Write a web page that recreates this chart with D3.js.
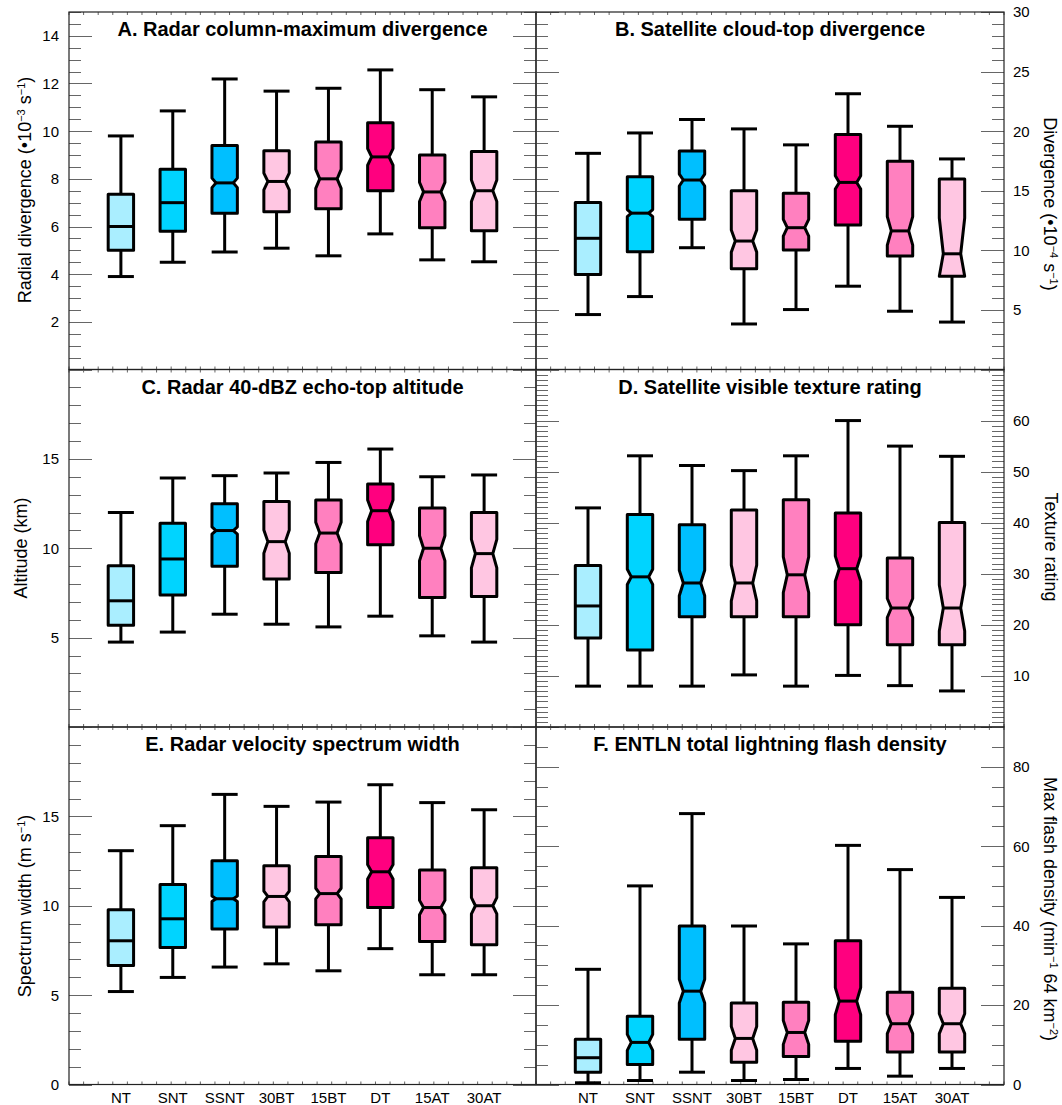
<!DOCTYPE html>
<html>
<head>
<meta charset="utf-8">
<script src="https://cdn.jsdelivr.net/npm/d3@7"></script>
<style>
  body { margin: 0; background: #fff; }
  text { font-family: "Liberation Sans", Arial, Helvetica, sans-serif; fill: #000; }
</style>
</head>
<body>
<div id="chart"></div>
<script>
// categories and box colours
var categories = ["NT", "SNT", "SSNT", "30BT", "15BT", "DT", "15AT", "30AT"];
var boxColors = ["#aaeeff", "#00d4ff", "#00bfff", "#ffc6e2", "#ff80bf", "#ff007f", "#ff80bf", "#ffc6e2"];

// each box: [whisker low, q1, median, q3, whisker high]; notch = half size of the median notch (0 = none)
var radarDivergence = [
  [3.9, 5.0, 6.0, 7.35, 9.8],
  [4.5, 5.8, 7.0, 8.4, 10.85],
  [4.93, 6.56, 7.83, 9.4, 12.19],
  [5.09, 6.62, 7.89, 9.18, 11.68],
  [4.77, 6.74, 8.0, 9.55, 11.8],
  [5.69, 7.5, 8.92, 10.35, 12.57],
  [4.6, 5.95, 7.45, 9.0, 11.74],
  [4.52, 5.82, 7.5, 9.15, 11.44]
];
var radarDivergenceNotch = [0, 0, 0.2, 0.35, 0.4, 0.35, 0.4, 0.45];

var satDivergence = [
  [4.61, 7.98, 11.01, 14.01, 18.14],
  [6.12, 9.88, 13.12, 16.18, 19.85],
  [10.22, 12.61, 15.9, 18.34, 20.98],
  [3.82, 8.45, 10.78, 15.0, 20.19],
  [5.03, 10.03, 11.9, 14.8, 18.85],
  [6.99, 12.13, 15.7, 19.71, 23.14],
  [4.89, 9.52, 11.63, 17.47, 20.41],
  [3.98, 7.83, 9.71, 15.98, 17.67]
];
var satDivergenceNotch = [0, 0.3, 0.5, 0.93, 0.7, 0.56, 1.2, 3.0];

var echoTop = [
  [4.75, 5.69, 7.06, 9.02, 12.0],
  [5.31, 7.38, 9.4, 11.4, 13.93],
  [6.31, 9.0, 10.99, 12.49, 14.06],
  [5.75, 8.28, 10.37, 12.62, 14.21],
  [5.6, 8.65, 10.85, 12.7, 14.8],
  [6.2, 10.2, 12.1, 13.6, 15.55],
  [5.1, 7.25, 10.0, 12.25, 14.0],
  [4.75, 7.3, 9.7, 12.0, 14.1]
];
var echoTopNotch = [0, 0, 0.2, 0.65, 0.6, 0.6, 0.7, 0.8];

var textureRating = [
  [8.0, 17.45, 23.7, 31.6, 42.9],
  [8.0, 15.1, 29.4, 41.6, 53.1],
  [8.0, 21.6, 28.2, 39.6, 51.2],
  [10.2, 21.6, 28.2, 42.5, 50.2],
  [8.0, 21.6, 29.8, 44.5, 53.1],
  [10.1, 20.0, 31.0, 41.9, 60.0],
  [8.1, 16.1, 23.3, 33.1, 55.0],
  [7.06, 16.1, 23.3, 40.06, 53.0]
];
var textureRatingNotch = [0, 1.5, 2.5, 3.5, 3.5, 2.45, 1.86, 4.5];

var spectrumWidth = [
  [5.2, 6.66, 8.04, 9.78, 13.08],
  [5.99, 7.67, 9.27, 11.19, 14.48],
  [6.57, 8.7, 10.39, 12.52, 16.23],
  [6.75, 8.81, 10.52, 12.24, 15.56],
  [6.36, 8.94, 10.68, 12.75, 15.8],
  [7.6, 9.9, 11.9, 13.8, 16.77],
  [6.14, 8.0, 9.9, 12.0, 15.77],
  [6.14, 7.82, 10.0, 12.13, 15.37]
];
var spectrumWidthNotch = [0, 0, 0.15, 0.3, 0.3, 0.4, 0.4, 0.45];

var flashDensity = [
  [0.43, 3.1, 6.74, 11.4, 29.0],
  [1.0, 5.05, 10.6, 17.2, 50.0],
  [3.1, 11.4, 23.5, 39.9, 68.2],
  [1.0, 5.6, 11.6, 20.5, 39.9],
  [1.26, 7.07, 13.1, 20.7, 35.4],
  [4.04, 10.9, 21.0, 36.2, 60.2],
  [2.1, 8.17, 15.3, 23.2, 54.1],
  [4.04, 8.17, 15.3, 24.2, 47.1]
];
var flashDensityNotch = [0, 2, 3, 3, 3, 3.4, 2.5, 2.5];

// tick labels per panel
var ticksA = [2, 4, 6, 8, 10, 12, 14];
var ticksB = [5, 10, 15, 20, 25, 30];
var ticksC = [5, 10, 15];
var ticksD = [10, 20, 30, 40, 50, 60];
var ticksE = [0, 5, 10, 15];
var ticksF = [0, 20, 40, 60, 80];

var panels = [
  {title: "A. Radar column-maximum divergence", data: radarDivergence, notch: radarDivergenceNotch,
   max: 15, major: 2, minor: 0.5, labels: ticksA, col: 0, row: 0,
   ytitle: [["Radial divergence (•10", 0], ["−3", 1], [" s", 0], ["−1", 1], [")", 0]], tx: 31, ty: 190},
  {title: "B. Satellite cloud-top divergence", data: satDivergence, notch: satDivergenceNotch,
   max: 30, major: 5, minor: 1, labels: ticksB, col: 1, row: 0,
   ytitle: [["Divergence (•10", 0], ["−4", 1], [" s", 0], ["−1", 1], [")", 0]], tx: 1044, ty: 204},
  {title: "C. Radar 40-dBZ echo-top altitude", data: echoTop, notch: echoTopNotch,
   max: 20, major: 5, minor: 1, labels: ticksC, col: 0, row: 1,
   ytitle: [["Altitude (km)", 0]], tx: 27, ty: 548},
  {title: "D. Satellite visible texture rating", data: textureRating, notch: textureRatingNotch,
   max: 70, major: 10, minor: 1, labels: ticksD, col: 1, row: 1,
   ytitle: [["Texture rating", 0]], tx: 1045, ty: 547},
  {title: "E. Radar velocity spectrum width", data: spectrumWidth, notch: spectrumWidthNotch,
   max: 20, major: 5, minor: 1, labels: ticksE, col: 0, row: 2,
   ytitle: [["Spectrum width (m s", 0], ["−1", 1], [")", 0]], tx: 31, ty: 906},
  {title: "F. ENTLN total lightning flash density", data: flashDensity, notch: flashDensityNotch,
   max: 90, major: 20, minor: 5, labels: ticksF, col: 1, row: 2,
   ytitle: [["Max flash density (min", 0], ["−1", 1], [" 64 km", 0], ["−2", 1], [")", 0]], tx: 1044, ty: 909}
];

var width = 1062, height = 1105;
var colEdges = [69, 536, 1004];
var rowEdges = [12, 369.5, 727, 1084.5];
var majorLen = 23, minorLen = 12, xTickLen = 3;
var halfBox = 12.7, halfCap = 13, notchIn = 4;

var svg = d3.select("#chart").append("svg")
    .attr("width", width)
    .attr("height", height);

panels.forEach(function(p) {
    var x0 = colEdges[p.col], x1 = colEdges[p.col + 1];
    var y0 = rowEdges[p.row], y1 = rowEdges[p.row + 1];

    var x = d3.scaleLinear().domain([0, categories.length + 1]).range([x0, x1]);
    var y = d3.scaleLinear().domain([0, p.max]).range([y1, y0]);

    var g = svg.append("g");

    // minor and major y ticks, mirrored on both sides
    var minorVals = d3.range(0, p.max + 1e-9, p.minor);
    var majorVals = d3.range(0, p.max + 1e-9, p.major);
    var ticks = g.append("g").attr("stroke", "#666").attr("stroke-width", 1);
    [x0, x1].forEach(function(xe, i) {
        var dir = i === 0 ? 1 : -1;
        ticks.selectAll(null).data(minorVals).enter().append("line")
            .attr("x1", xe).attr("x2", xe + dir * minorLen)
            .attr("y1", function(d) { return Math.round(y(d)) + 0.5; })
            .attr("y2", function(d) { return Math.round(y(d)) + 0.5; });
        ticks.selectAll(null).data(majorVals).enter().append("line")
            .attr("x1", xe).attr("x2", xe + dir * majorLen)
            .attr("y1", function(d) { return Math.round(y(d)) + 0.5; })
            .attr("y2", function(d) { return Math.round(y(d)) + 0.5; });
    });

    // x minor ticks on top and bottom
    var xt = d3.range(0, 33).map(function(i) { return i * (categories.length + 1) / 32; });
    [y0, y1].forEach(function(ye, i) {
        var dir = i === 0 ? 1 : -1;
        ticks.selectAll(null).data(xt).enter().append("line")
            .attr("x1", function(d) { return x(d); }).attr("x2", function(d) { return x(d); })
            .attr("y1", ye).attr("y2", ye + dir * xTickLen);
    });

    // frame
    g.append("rect")
        .attr("x", x0).attr("y", y0)
        .attr("width", x1 - x0).attr("height", y1 - y0)
        .attr("fill", "none").attr("stroke", "#222").attr("stroke-width", 1.2);

    // tick labels
    var left = p.col === 0;
    g.selectAll(".tl").data(p.labels).enter().append("text")
        .attr("x", left ? x0 - 10 : x1 + 9)
        .attr("y", function(d) { return y(d); })
        .attr("dy", "0.36em")
        .attr("text-anchor", left ? "end" : "start")
        .attr("font-size", 15)
        .text(function(d) { return d; });

    // axis title with superscripts
    var t = g.append("text")
        .attr("transform", "translate(" + p.tx + "," + p.ty + ") rotate(" + (left ? -90 : 90) + ")")
        .attr("text-anchor", "middle")
        .attr("font-size", 18);
    p.ytitle.forEach(function(seg, i) {
        var prev = i > 0 ? p.ytitle[i - 1][1] : 0;
        var shift = (seg[1] - prev) * -6;
        t.append("tspan")
            .attr("dy", shift)
            .attr("font-size", seg[1] ? 11 : 18)
            .text(seg[0]);
    });

    // panel title
    g.append("text")
        .attr("x", (x0 + x1) / 2)
        .attr("y", y0 + 24)
        .attr("text-anchor", "middle")
        .attr("font-size", 20)
        .attr("font-weight", "bold")
        .text(p.title);

    // whiskers
    var boxes = g.selectAll(".box").data(p.data).enter().append("g");
    boxes.append("line")
        .attr("x1", function(d, i) { return x(i + 1); })
        .attr("x2", function(d, i) { return x(i + 1); })
        .attr("y1", function(d) { return y(d[0]); })
        .attr("y2", function(d) { return y(d[4]); })
        .attr("stroke", "#000").attr("stroke-width", 3);
    [0, 4].forEach(function(k) {
        boxes.append("line")
            .attr("x1", function(d, i) { return x(i + 1) - halfCap; })
            .attr("x2", function(d, i) { return x(i + 1) + halfCap; })
            .attr("y1", function(d) { return y(d[k]); })
            .attr("y2", function(d) { return y(d[k]); })
            .attr("stroke", "#000").attr("stroke-width", 3);
    });

    // notched box
    boxes.append("path")
        .attr("d", function(d, i) {
            var cx = x(i + 1);
            var c = p.notch[i];
            var n = c > 0 ? notchIn : 0;
            var hi = y(Math.min(d[2] + c, d[3])), lo = y(Math.max(d[2] - c, d[1]));
            var m = y(d[2]);
            return "M" + (cx - halfBox) + "," + y(d[3]) +
                "L" + (cx + halfBox) + "," + y(d[3]) +
                "L" + (cx + halfBox) + "," + hi +
                "L" + (cx + halfBox - n) + "," + m +
                "L" + (cx + halfBox) + "," + lo +
                "L" + (cx + halfBox) + "," + y(d[1]) +
                "L" + (cx - halfBox) + "," + y(d[1]) +
                "L" + (cx - halfBox) + "," + lo +
                "L" + (cx - halfBox + n) + "," + m +
                "L" + (cx - halfBox) + "," + hi + "Z";
        })
        .attr("fill", function(d, i) { return boxColors[i]; })
        .attr("stroke", "#000").attr("stroke-width", 3).attr("stroke-linejoin", "round");
    boxes.append("line")
        .attr("x1", function(d, i) { return x(i + 1) - halfBox + (p.notch[i] > 0 ? notchIn : 0); })
        .attr("x2", function(d, i) { return x(i + 1) + halfBox - (p.notch[i] > 0 ? notchIn : 0); })
        .attr("y1", function(d) { return y(d[2]); })
        .attr("y2", function(d) { return y(d[2]); })
        .attr("stroke", "#000").attr("stroke-width", 3);

    // category labels under the bottom row
    if (p.row === 2) {
        g.selectAll(".xl").data(categories).enter().append("text")
            .attr("x", function(d, i) { return x(i + 1); })
            .attr("y", 1103)
            .attr("text-anchor", "middle")
            .attr("font-size", 15)
            .text(function(d) { return d; });
    }
});
</script>
</body>
</html>
